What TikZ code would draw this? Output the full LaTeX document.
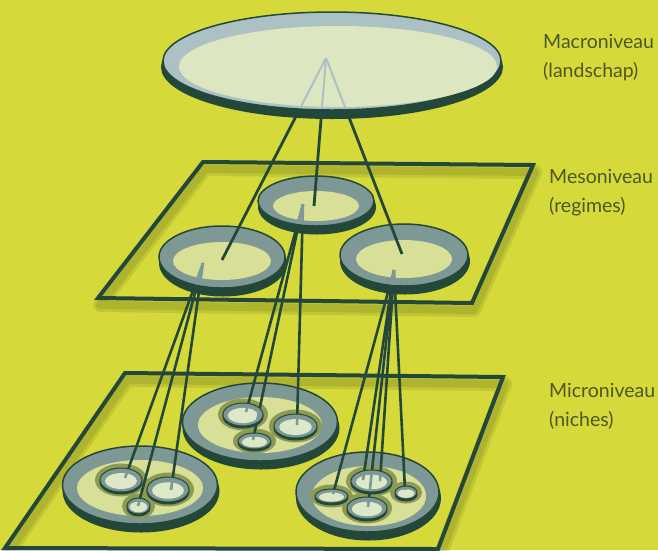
\documentclass[tikz,border=0pt]{standalone}
\usepackage{fontspec}
\setmainfont{Lato}
\definecolor{bg}{HTML}{D5DA3A}
\definecolor{darkg}{HTML}{23483A}
\definecolor{ringg}{HTML}{7E9896}
\definecolor{paleg}{HTML}{D8E098}
\definecolor{macring}{HTML}{ABC1C3}
\definecolor{macin}{HTML}{DCE7C2}
\definecolor{halo}{HTML}{8C9A52}
\definecolor{nichein}{HTML}{DDE8C8}
\definecolor{txt}{HTML}{4D5726}
\newcommand{\nichehalo}[4]{\fill[halo] (#1,#2) ellipse [x radius=#3pt+5pt, y radius=#4pt+4.5pt];}
\newcommand{\nichebody}[4]{%
  \fill[darkg] (#1,#2+2) ellipse [x radius=#3pt+0.5pt, y radius=#4pt+0.5pt];
  \filldraw[fill=ringg, draw=darkg, line width=1pt] (#1,#2) ellipse [x radius=#3pt, y radius=#4pt];
  \fill[nichein] (#1,#2+1) ellipse [x radius=0.76*#3pt, y radius=0.66*#4pt];}
\newcommand{\bigdisc}[8]{% grey cx,cy,rx,ry ; inner cx,cy,rx,ry
  \fill[darkg] (#1+1,#2+6) ellipse [x radius=#3pt+1pt, y radius=#4pt+2.5pt];
  \filldraw[fill=ringg, draw=darkg, line width=1.5pt] (#1,#2) ellipse [x radius=#3pt, y radius=#4pt];
  \fill[paleg] (#5,#6) ellipse [x radius=#7pt, y radius=#8pt];}
\begin{document}
\begin{tikzpicture}[x=1pt,y=-1pt,
  conn/.style={darkg, line width=2.6pt},
  topconn/.style={darkg, line width=2.8pt},
  stub/.style={ringg, line width=2.6pt},
  macstub/.style={macring, line width=2pt},
  plane/.style={darkg, line width=4pt, line join=miter},
  planeshade/.style={black, opacity=0.09, line width=#1, line join=round},
  lbl/.style={anchor=base west, txt, font=\fontsize{19.5}{23}\selectfont, inner sep=0pt}
]
\fill[bg] (0,0) rectangle (658,550);
\useasboundingbox (0,0) rectangle (658,550);

% ---------- named points ----------
\coordinate (macA) at (326,58);
\coordinate (tL) at (222,260);
\coordinate (tC) at (314,206);
\coordinate (tR) at (402,254);
\coordinate (aL) at (203,263);
\coordinate (aC) at (303,204);
\coordinate (aR) at (394,270);
\coordinate (L1) at (125,478);
\coordinate (L2) at (171,490);
\coordinate (L3) at (138,506);
\coordinate (C1) at (246,412);
\coordinate (C2) at (297,425);
\coordinate (C3) at (253,440);
\coordinate (R1) at (333,494);
\coordinate (R2a) at (363,480);
\coordinate (R2b) at (380,481);
\coordinate (R3) at (368,507);
\coordinate (R4) at (405,490);

% ---------- micro plane ----------
\foreach \w in {14pt,8pt}
  \draw[planeshade=\w, shift={(2,7)}] (125,373) -- (503,377) -- (438,549) -- (5,548) -- cycle;
\draw[plane] (125,373) -- (503,377) -- (438,549) -- (5,548) -- cycle;

% ---------- meso plane ----------
\foreach \w in {14pt,8pt}
  \draw[planeshade=\w, shift={(2,7)}] (203,162) -- (533,165) -- (472,303) -- (98,298) -- cycle;
\draw[plane] (203,162) -- (533,165) -- (472,303) -- (98,298) -- cycle;

% ---------- micro big discs ----------
\bigdisc{140}{485}{77.5}{39}{140}{488}{63}{28}
\bigdisc{260}{422}{77.5}{39}{260}{425}{62}{28}
\bigdisc{367.5}{492}{71.5}{40}{369}{496}{57}{30}

% ---------- niche halos ----------
\nichehalo{121}{480}{21}{12}
\nichehalo{168}{489.5}{21}{12.5}
\nichehalo{138.5}{506}{11.5}{8}
\nichehalo{243}{414.5}{20}{11.5}
\nichehalo{295.5}{426}{21.5}{12}
\nichehalo{254.5}{441}{16.5}{8}
\nichehalo{331.5}{496}{16.5}{7}
\nichehalo{371.5}{481}{20.5}{11}
\nichehalo{367}{508}{20}{11}
\nichehalo{406}{492.5}{11}{6.5}

% ---------- meso -> micro connectors ----------
\foreach \t in {L1,L2,L3} \draw[conn] (aL) -- (\t);
\foreach \t in {C1,C2,C3} \draw[conn] (aC) -- (\t);
\foreach \t in {R1,R2a,R2b,R3,R4} \draw[conn] (aR) -- (\t);

% ---------- niche bodies ----------
\nichebody{121}{480}{21}{12}
\nichebody{168}{489.5}{21}{12.5}
\nichebody{138.5}{506}{11.5}{8}
\nichebody{243}{414.5}{20}{11.5}
\nichebody{295.5}{426}{21.5}{12}
\nichebody{254.5}{441}{16.5}{8}
\nichebody{331.5}{496}{16.5}{7}
\nichebody{371.5}{481}{20.5}{11}
\nichebody{367}{508}{20}{11}
\nichebody{406}{492.5}{11}{6.5}

% ---------- grey stubs inside niches ----------
\begin{scope}
  \clip (121,480) ellipse [x radius=20pt, y radius=11pt]
        (168,489.5) ellipse [x radius=20pt, y radius=11.5pt]
        (138.5,506) ellipse [x radius=10.5pt, y radius=7pt];
  \foreach \t in {L1,L2,L3} \draw[stub] (aL) -- (\t);
\end{scope}
\begin{scope}
  \clip (243,414.5) ellipse [x radius=19pt, y radius=10.5pt]
        (295.5,426) ellipse [x radius=20.5pt, y radius=11pt]
        (254.5,441) ellipse [x radius=15.5pt, y radius=7pt];
  \foreach \t in {C1,C2,C3} \draw[stub] (aC) -- (\t);
\end{scope}
\begin{scope}
  \clip (331.5,496) ellipse [x radius=15.5pt, y radius=6pt]
        (371.5,481) ellipse [x radius=19.5pt, y radius=10pt]
        (367,508) ellipse [x radius=19pt, y radius=10pt]
        (406,492.5) ellipse [x radius=10pt, y radius=5.5pt];
  \foreach \t in {R1,R2a,R2b,R3,R4} \draw[stub] (aR) -- (\t);
\end{scope}

% ---------- meso discs ----------
\bigdisc{222}{257}{63}{31}{222}{261}{49}{19}
\bigdisc{316}{201}{58}{25}{316}{206}{43}{15}
\bigdisc{404}{255}{64}{31}{404}{259}{48}{19}

% grey stubs inside meso discs
\begin{scope}
  \clip (222,257) ellipse [x radius=62pt, y radius=30pt];
  \foreach \t in {L1,L2,L3} \draw[stub] (aL) -- (\t);
\end{scope}
\begin{scope}
  \clip (316,201) ellipse [x radius=57pt, y radius=24pt];
  \foreach \t in {C1,C2,C3} \draw[stub] (aC) -- (\t);
\end{scope}
\begin{scope}
  \clip (404,255) ellipse [x radius=63pt, y radius=30pt];
  \foreach \t in {R1,R2a,R2b,R3,R4} \draw[stub] (aR) -- (\t);
\end{scope}

% ---------- macro -> meso connectors ----------
\foreach \t in {tL,tC,tR} \draw[topconn] (macA) -- (\t);

% ---------- macro disc ----------
\fill[darkg] (332,67) ellipse [x radius=171pt, y radius=52pt];
\filldraw[fill=macring, draw=darkg, line width=1.5pt] (332,61) ellipse [x radius=169pt, y radius=49pt];
\fill[macin] (338,66.5) ellipse [x radius=159pt, y radius=40.5pt];
\begin{scope}
  \clip (332,61) ellipse [x radius=168pt, y radius=48pt];
  \foreach \t in {tL,tC,tR} \draw[macstub] (macA) -- (\t);
\end{scope}

% ---------- labels ----------
\node[lbl] (lmac1) at (543,48) {Macroniveau};
\node[lbl] (lmac2) at (543,77) {(landschap)};
\node[lbl] (lmes1) at (549,183) {Mesoniveau};
\node[lbl] (lmes2) at (549,212) {(regimes)};
\node[lbl] (lmic1) at (549,397) {Microniveau};
\node[lbl] (lmic2) at (549,426) {(niches)};
\end{tikzpicture}
\end{document}
